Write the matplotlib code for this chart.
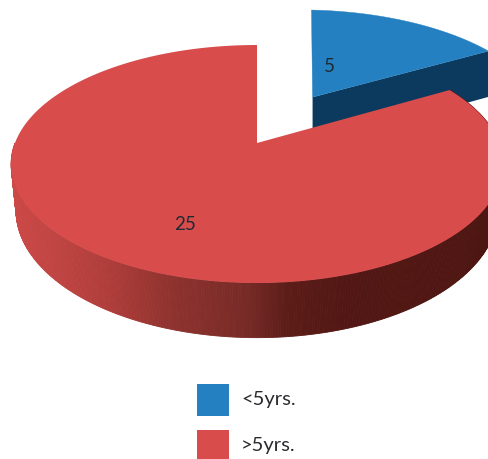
import numpy as np
import matplotlib
matplotlib.use('Agg')
import matplotlib.pyplot as plt
from matplotlib.colors import LinearSegmentedColormap
from matplotlib.patches import Polygon, Rectangle

categories = ['<5yrs.', '>5yrs.']
values = [5, 25]
top_colors = ['#2480c0', '#d94c4c']
wall_color = '#0c3a5e'

# pie projection, all in image pixels
cx, cy = 257, 143
rx, ry = 242, 115.3
persp = 0.1765
depth = 45
blue_depth = 52
explode = 0.494
start = 90  # first slice starts at 12 o'clock, clockwise

side_cmap = LinearSegmentedColormap.from_list('side', [
    (0.0, '#cc4a48'), (0.2, '#b03d3a'), (0.34, '#8e322e'), (0.5, '#762a26'),
    (0.58, '#5c1c18'), (0.7, '#521714'), (1.0, '#4e1612')])


def project(u, v, drop=0.0):
    w = 1 + persp * v
    x = cx + rx * u / w
    y = cy - ry * v / w
    if drop:
        x = cx + (x - cx) * 0.98
        y = y + drop / w
    return x, y


def arc(a1, a2, off=(0, 0), n=240):
    t = np.radians(np.linspace(a1, a2, n))
    return off[0] + np.cos(t), off[1] + np.sin(t)


fig = plt.figure(figsize=(4.88, 4.59), dpi=100)
ax = fig.add_axes([0, 0, 1, 1])
ax.set_xlim(0, 488)
ax.set_ylim(459, 0)
ax.axis('off')
plt.rcParams['font.family'] = ['Lato', 'DejaVu Sans']

sweeps = 360 * np.array(values) / sum(values)
a_blue_end = start - sweeps[0]
a_red_end = a_blue_end - sweeps[1]

# blue slice, pulled out along its middle angle
mid = np.radians((start + a_blue_end) / 2)
off = (explode * np.cos(mid), explode * np.sin(mid))
tip = (off[0] + np.cos(np.radians(a_blue_end)), off[1] + np.sin(np.radians(a_blue_end)))
tx, ty = project(*tip)
ox, oy = project(*off)
wall = [(ox, oy), (tx, ty), (tx + 4, project(*tip, drop=blue_depth)[1]), (ox, project(*off, drop=blue_depth)[1])]
ax.add_patch(Polygon(wall, fc=wall_color, ec='none'))
# left edge leans a bit less in the picture than the projection gives
u, v = arc(start - 2, a_blue_end, off)
xs, ys = project(u, v)
ys = ys - 1.5 * np.linspace(1, 0, len(ys))
ax.add_patch(Polygon(np.vstack([(ox, oy), np.column_stack([xs, ys])]), fc=top_colors[0], ec=top_colors[0], lw=0.3))

# red side wall, shaded by x
a = np.linspace(180, 360 + a_blue_end, 400)
for a1, a2 in zip(a[:-1], a[1:]):
    u, v = arc(a1, a2, n=2)
    x1, y1 = project(u, v)
    x2, y2 = project(u, v, drop=depth)
    c = side_cmap(np.clip((x1.mean() - 11) / 477, 0, 1))
    ax.add_patch(Polygon(np.column_stack([np.r_[x1, x2[::-1]], np.r_[y1, y2[::-1]]]),
                         fc=c, ec=c, lw=0.6))

# red top
u, v = arc(a_blue_end, a_red_end)
xs, ys = project(u, v)
ax.add_patch(Polygon(np.vstack([project(0, 0), np.column_stack([xs, ys])]), fc=top_colors[1], ec='none'))

ax.text(329, 67, str(values[0]), fontsize=13.5, color='#1f2a33', ha='center', va='center')
ax.text(185, 225, str(values[1]), fontsize=13.5, color='#1f2a33', ha='center', va='center')

# legend
for name, col, y0, h in zip(categories, top_colors, [384, 430], [32, 29]):
    ax.add_patch(Rectangle((197, y0), 32, h, fc=col, ec='none'))
    ax.text(241, y0 + 16, name, fontsize=14.5, color='#2a2a2e', ha='left', va='center')

fig.savefig('out.png', dpi=100)
